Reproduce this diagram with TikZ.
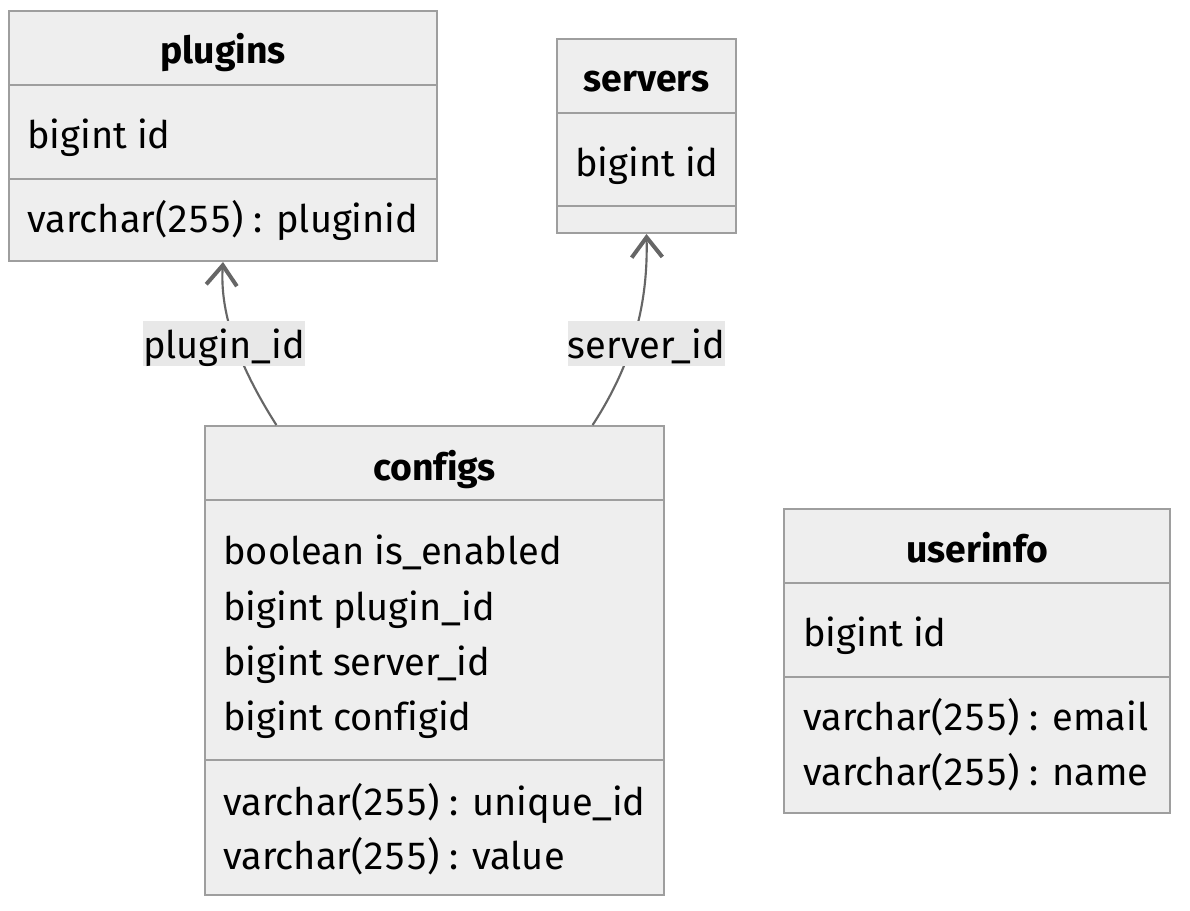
\documentclass[tikz,border=0pt]{standalone}
\usepackage{fontspec}
\setmainfont{Fira Sans}[Ligatures=NoCommon, Numbers={Lining,Monospaced}]
\usetikzlibrary{arrows.meta,calc}
\definecolor{boxfill}{HTML}{EEEEEE}
\definecolor{boxline}{HTML}{9E9E9E}
\definecolor{edgecol}{HTML}{666666}
\definecolor{labfill}{HTML}{E8E8E8}
\tikzset{
  classbox/.style={draw=boxline, fill=boxfill, line width=1.5pt, inner sep=0pt, rectangle},
  divider/.style={draw=boxline, line width=1.5pt},
  member/.style={anchor=base west, inner sep=0pt, font=\fontsize{28.5}{32}\selectfont},
  title/.style={anchor=base, inner sep=0pt, font=\fontsize{28}{32}\selectfont\bfseries},
  rel/.style={draw=edgecol, line width=1.6pt, -{Straight Barb[length=15pt,width=23pt,line width=3pt]}},
  rellabel/.style={fill=labfill, inner sep=0pt, minimum height=34pt, text depth=0pt, font=\fontsize{28.5}{32}\selectfont}
}
\begin{document}
\begin{tikzpicture}[x=0.75pt,y=-0.75pt]
\useasboundingbox (0,0) rectangle (1190,911);
% plugins
\node[classbox, minimum width=428*0.75pt, minimum height=250*0.75pt] (plugins) at (223,136) {};
\draw[divider] (9,85) -- (437,85);
\draw[divider] (9,179) -- (437,179);
\node[title] (pluginsT) at (223,63) {plugins};
\node[member] (pluginsA) at (27,148) {bigint id};
\node[member] (pluginsM) at (27,232) {varchar(255) : pluginid};
% servers
\node[classbox, minimum width=179*0.75pt, minimum height=194*0.75pt] (servers) at (646.5,136) {};
\draw[divider] (557,113) -- (736,113);
\draw[divider] (557,206) -- (736,206);
\node[title] (serversT) at (646.5,91) {servers};
\node[member] (serversA) at (575,176) {bigint id};
% configs
\node[classbox, minimum width=459*0.75pt, minimum height=469*0.75pt] (configs) at (434.5,660.5) {};
\draw[divider] (205,500) -- (664,500);
\draw[divider] (205,760) -- (664,760);
\node[title] (configsT) at (434.5,480) {configs};
\node[member] (configsA) at (223,564) {boolean is\_enabled};
\node[member] (configsB) at (223,620) {bigint plugin\_id};
\node[member] (configsC) at (223,675) {bigint server\_id};
\node[member] (configsD) at (223,730) {bigint configid};
\node[member] (configsM) at (223,815) {varchar(255) : unique\_id};
\node[member] (configsN) at (223,869) {varchar(255) : value};
% userinfo
\node[classbox, minimum width=386*0.75pt, minimum height=304*0.75pt] (userinfo) at (977,661) {};
\draw[divider] (784,583) -- (1170,583);
\draw[divider] (784,677) -- (1170,677);
\node[title] (userinfoT) at (977,562) {userinfo};
\node[member] (userinfoA) at (803,646) {bigint id};
\node[member] (userinfoM) at (803,730) {varchar(255) : email};
\node[member] (userinfoN) at (803,785) {varchar(255) : name};
% relations
\coordinate (cP) at ($(configs.north west)!0.157!(configs.north east)$);
\coordinate (cS) at ($(configs.north west)!0.843!(configs.north east)$);
\draw[rel] (cP) .. controls (235,360) and (220,310) .. (plugins.south);
\draw[rel] (cS) .. controls (635,360) and (648,300) .. (servers.south);
\node[rellabel] (lP) at (224,343.5) {plugin\_id};
\node[rellabel] (lS) at (646.5,343.5) {server\_id};
\end{tikzpicture}
\end{document}
